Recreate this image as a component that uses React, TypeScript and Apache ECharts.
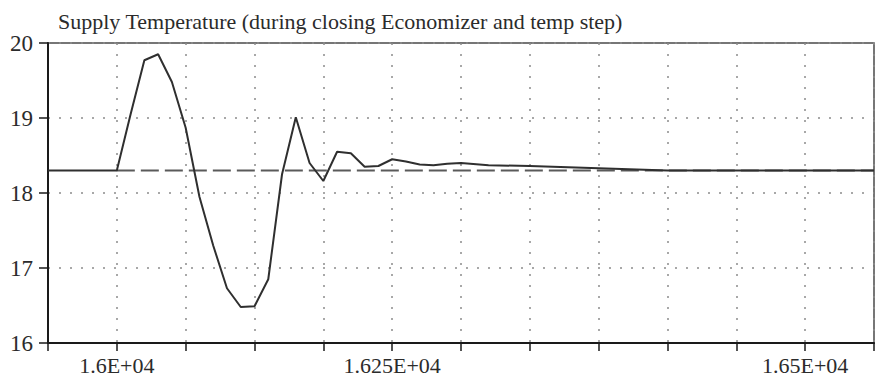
import React, { useEffect, useRef } from "react";
import * as echarts from "echarts";

// Time axis positions (grid units) and supply temperature readings
const time = [
  -1, 0, 0.2, 0.4, 0.6, 0.8, 1.0, 1.2, 1.4, 1.6, 1.8, 2.0, 2.2, 2.4, 2.6, 2.8,
  3.0, 3.2, 3.4, 3.6, 3.8, 4.0, 4.2, 4.4, 4.6, 4.8, 5.0, 5.4, 6.0, 7.0, 8.0,
  9.0, 10.0, 11.0,
];
const supplyTemp = [
  18.3, 18.3, 19.05, 19.77, 19.85, 19.48, 18.87, 17.95, 17.3, 16.73, 16.48,
  16.49, 16.85, 18.25, 19.01, 18.4, 18.16, 18.55, 18.53, 18.35, 18.36, 18.45,
  18.42, 18.38, 18.37, 18.39, 18.4, 18.37, 18.36, 18.33, 18.3, 18.3, 18.3, 18.3,
];

// Setpoint after the temperature step
const setpointStart = 0;
const setpointEnd = 11;
const setpoint = 18.3;

// Labelled ticks on the time axis
const xLabelTicks = [0, 4, 10];
const xLabelTexts = ["1.6E+04", "1.625E+04", "1.65E+04"];

const titleText = "Supply Temperature (during closing Economizer and temp step)";
const FONT = "Liberation Serif";

export default function App() {
  const ref = useRef<HTMLDivElement>(null);

  useEffect(() => {
    if (!ref.current) return;
    const chart = echarts.init(ref.current, null, { renderer: "svg" });
    const dotted = { color: "#8c8c8c", width: 1.5, type: [2, 9] as number[] };

    chart.setOption({
      animation: false,
      backgroundColor: "#ffffff",
      title: {
        text: titleText,
        left: 53,
        top: 5,
        textStyle: {
          fontFamily: FONT,
          fontSize: 22,
          fontWeight: "normal",
          color: "#2b2b2b",
        },
      },
      grid: {
        left: 48,
        right: 2,
        top: 43,
        bottom: 40,
        show: true,
        borderColor: "#4a4a4a",
        borderWidth: 1.5,
        backgroundColor: "transparent",
      },
      xAxis: {
        type: "value",
        min: -1,
        max: 11,
        interval: 1,
        axisLine: { show: true, onZero: false, lineStyle: { color: "#1a1a1a", width: 2 } },
        axisTick: { show: true, inside: false, length: 8, lineStyle: { color: "#1a1a1a", width: 1.5 } },
        axisLabel: {
          margin: 11,
          fontFamily: FONT,
          fontSize: 22,
          color: "#2b2b2b",
          showMinLabel: true,
          showMaxLabel: true,
          formatter: (v: number) => {
            const i = xLabelTicks.findIndex((t) => Math.abs(t - v) < 1e-6);
            return i >= 0 ? xLabelTexts[i] : "";
          },
        },
        splitLine: { show: true, lineStyle: dotted },
      },
      yAxis: {
        type: "value",
        min: 16,
        max: 20,
        interval: 1,
        axisLine: { show: true, onZero: false, lineStyle: { color: "#1a1a1a", width: 2 } },
        axisTick: { show: true, inside: false, length: 9, lineStyle: { color: "#1a1a1a", width: 1.5 } },
        axisLabel: {
          margin: 15,
          fontFamily: FONT,
          fontSize: 23,
          color: "#2b2b2b",
        },
        splitLine: { show: true, lineStyle: dotted },
      },
      series: [
        {
          name: "Setpoint",
          type: "line",
          data: [
            [setpointStart, setpoint],
            [setpointEnd, setpoint],
          ],
          symbol: "none",
          lineStyle: { color: "#5a5a5a", width: 2, type: [18, 6] },
          z: 2,
        },
        {
          name: "Supply Temperature",
          type: "line",
          data: time.map((t, i) => [t, supplyTemp[i]]),
          symbol: "none",
          lineStyle: { color: "#2f2f2f", width: 2 },
          z: 3,
        },
      ],
    });

    return () => chart.dispose();
  }, []);

  return (
    <div
      ref={ref}
      style={{ position: "fixed", left: 0, top: 0, width: 877, height: 383 }}
    />
  );
}
